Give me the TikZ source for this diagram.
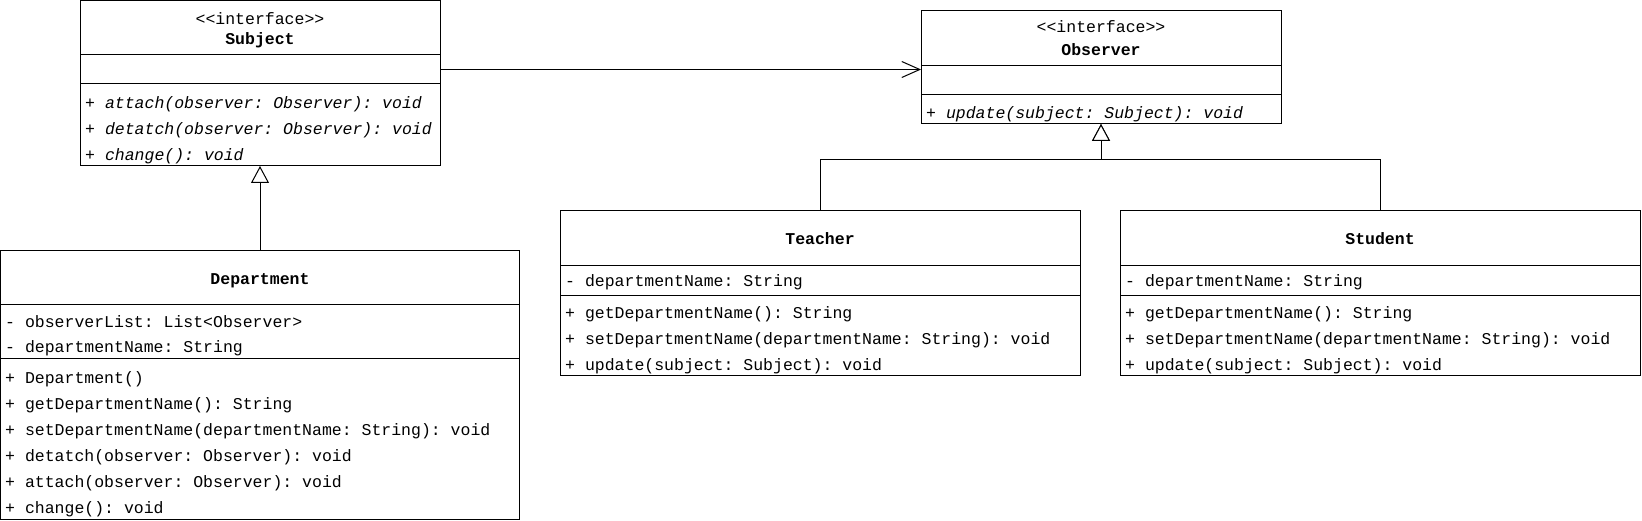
\documentclass[tikz,border=0pt]{standalone}
\usepackage{fontspec}
\setmonofont{Liberation Mono}
\usetikzlibrary{arrows.meta}
\newcommand\umlfont{\ttfamily\fontsize{16.5}{20}\selectfont}
\tikzset{
  comp/.style={draw, line width=1pt, inner sep=0pt, outer sep=0pt, anchor=north west},
  txt/.style={font=\umlfont, inner sep=0pt, anchor=mid west, yshift=-3.5pt},
  itx/.style={font=\umlfont\itshape, inner sep=0pt, anchor=mid west, yshift=-3.5pt},
  ttl/.style={font=\umlfont\bfseries, inner sep=0pt, anchor=mid, yshift=-3.5pt},
  ster/.style={font=\umlfont, inner sep=0pt, anchor=mid, yshift=-3.5pt},
  assoc/.style={draw, line width=1pt, -{Straight Barb[length=18pt, width=16pt, line width=1pt]}},
  inh/.style={draw, line width=1pt, -{Triangle[open, length=17pt, width=18pt, fill=white, line width=1pt]}}
}
\begin{document}
\begin{tikzpicture}[x=1pt, y=-1pt]
\useasboundingbox (0,0) rectangle (1642,521);
\fill[white] (0,0) rectangle (1642,521);

% Subject
\node[comp, minimum width=360pt, minimum height=54pt] (shead) at (80,1) {};
\node[comp, minimum width=360pt, minimum height=29pt] (sattr) at (80,55) {};
\node[comp, minimum width=360pt, minimum height=82pt] (sops) at (80,84) {};
\node[ster] (s0) at (260,19) {<{}<interface>{}>};
\node[ttl] (s00) at (260,39) {Subject};
\node[itx] (s1) at (85,103) {+ attach(observer: Observer): void};
\node[itx] (s2) at (85,129) {+ detatch(observer: Observer): void};
\node[itx] (s3) at (85,155) {+ change(): void};

% Observer
\node[comp, minimum width=360pt, minimum height=55pt] (ohead) at (921,11) {};
\node[comp, minimum width=360pt, minimum height=29pt] (oattr) at (921,66) {};
\node[comp, minimum width=360pt, minimum height=29pt] (oops) at (921,95) {};
\node[ster] (o0) at (1101,27) {<{}<interface>{}>};
\node[ttl] (o00) at (1101,49.5) {Observer};
\node[itx] (o1) at (926,113) {+ update(subject: Subject): void};

% Department
\node[comp, minimum width=519pt, minimum height=54pt] (dhead) at (0.5,251) {};
\node[comp, minimum width=519pt, minimum height=54pt] (dattr) at (0.5,305) {};
\node[comp, minimum width=519pt, minimum height=160pt] (dops) at (0.5,359) {};
\node[ttl] (d0) at (260,278.5) {Department};
\node[txt] (da1) at (5,322) {- observerList: List<Observer>};
\node[txt] (da2) at (5,347) {- departmentName: String};
\node[txt] (dm1) at (5,378) {+ Department()};
\node[txt] (dm2) at (5,404) {+ getDepartmentName(): String};
\node[txt] (dm3) at (5,430) {+ setDepartmentName(departmentName: String): void};
\node[txt] (dm4) at (5,456) {+ detatch(observer: Observer): void};
\node[txt] (dm5) at (5,482) {+ attach(observer: Observer): void};
\node[txt] (dm6) at (5,508) {+ change(): void};

% Teacher
\node[comp, minimum width=520pt, minimum height=55pt] (thead) at (560,211) {};
\node[comp, minimum width=520pt, minimum height=29.5pt] (tattr) at (560,266) {};
\node[comp, minimum width=520pt, minimum height=80.5pt] (tops) at (560,295.5) {};
\node[ttl] (t0) at (820,238.5) {Teacher};
\node[txt] (ta1) at (565,281) {- departmentName: String};
\node[txt] (tm1) at (565,313) {+ getDepartmentName(): String};
\node[txt] (tm2) at (565,339) {+ setDepartmentName(departmentName: String): void};
\node[txt] (tm3) at (565,365) {+ update(subject: Subject): void};

% Student
\node[comp, minimum width=520pt, minimum height=55pt] (sthead) at (1120,211) {};
\node[comp, minimum width=520pt, minimum height=29.5pt] (stattr) at (1120,266) {};
\node[comp, minimum width=520pt, minimum height=80.5pt] (stops) at (1120,295.5) {};
\node[ttl] (st0) at (1380,238.5) {Student};
\node[txt] (sta1) at (1125,281) {- departmentName: String};
\node[txt] (stm1) at (1125,313) {+ getDepartmentName(): String};
\node[txt] (stm2) at (1125,339) {+ setDepartmentName(departmentName: String): void};
\node[txt] (stm3) at (1125,365) {+ update(subject: Subject): void};

% connectors
\draw[assoc] (sattr.east) -- (sattr.east -| oattr.west);
\draw[inh] (dhead.north) -- (sops.south);
\coordinate (jn) at (oops.south |- 0,160);
\draw[inh] (thead.north) |- (jn) -- (oops.south);
\draw[inh] (sthead.north) |- (jn) -- (oops.south);
\end{tikzpicture}
\end{document}
